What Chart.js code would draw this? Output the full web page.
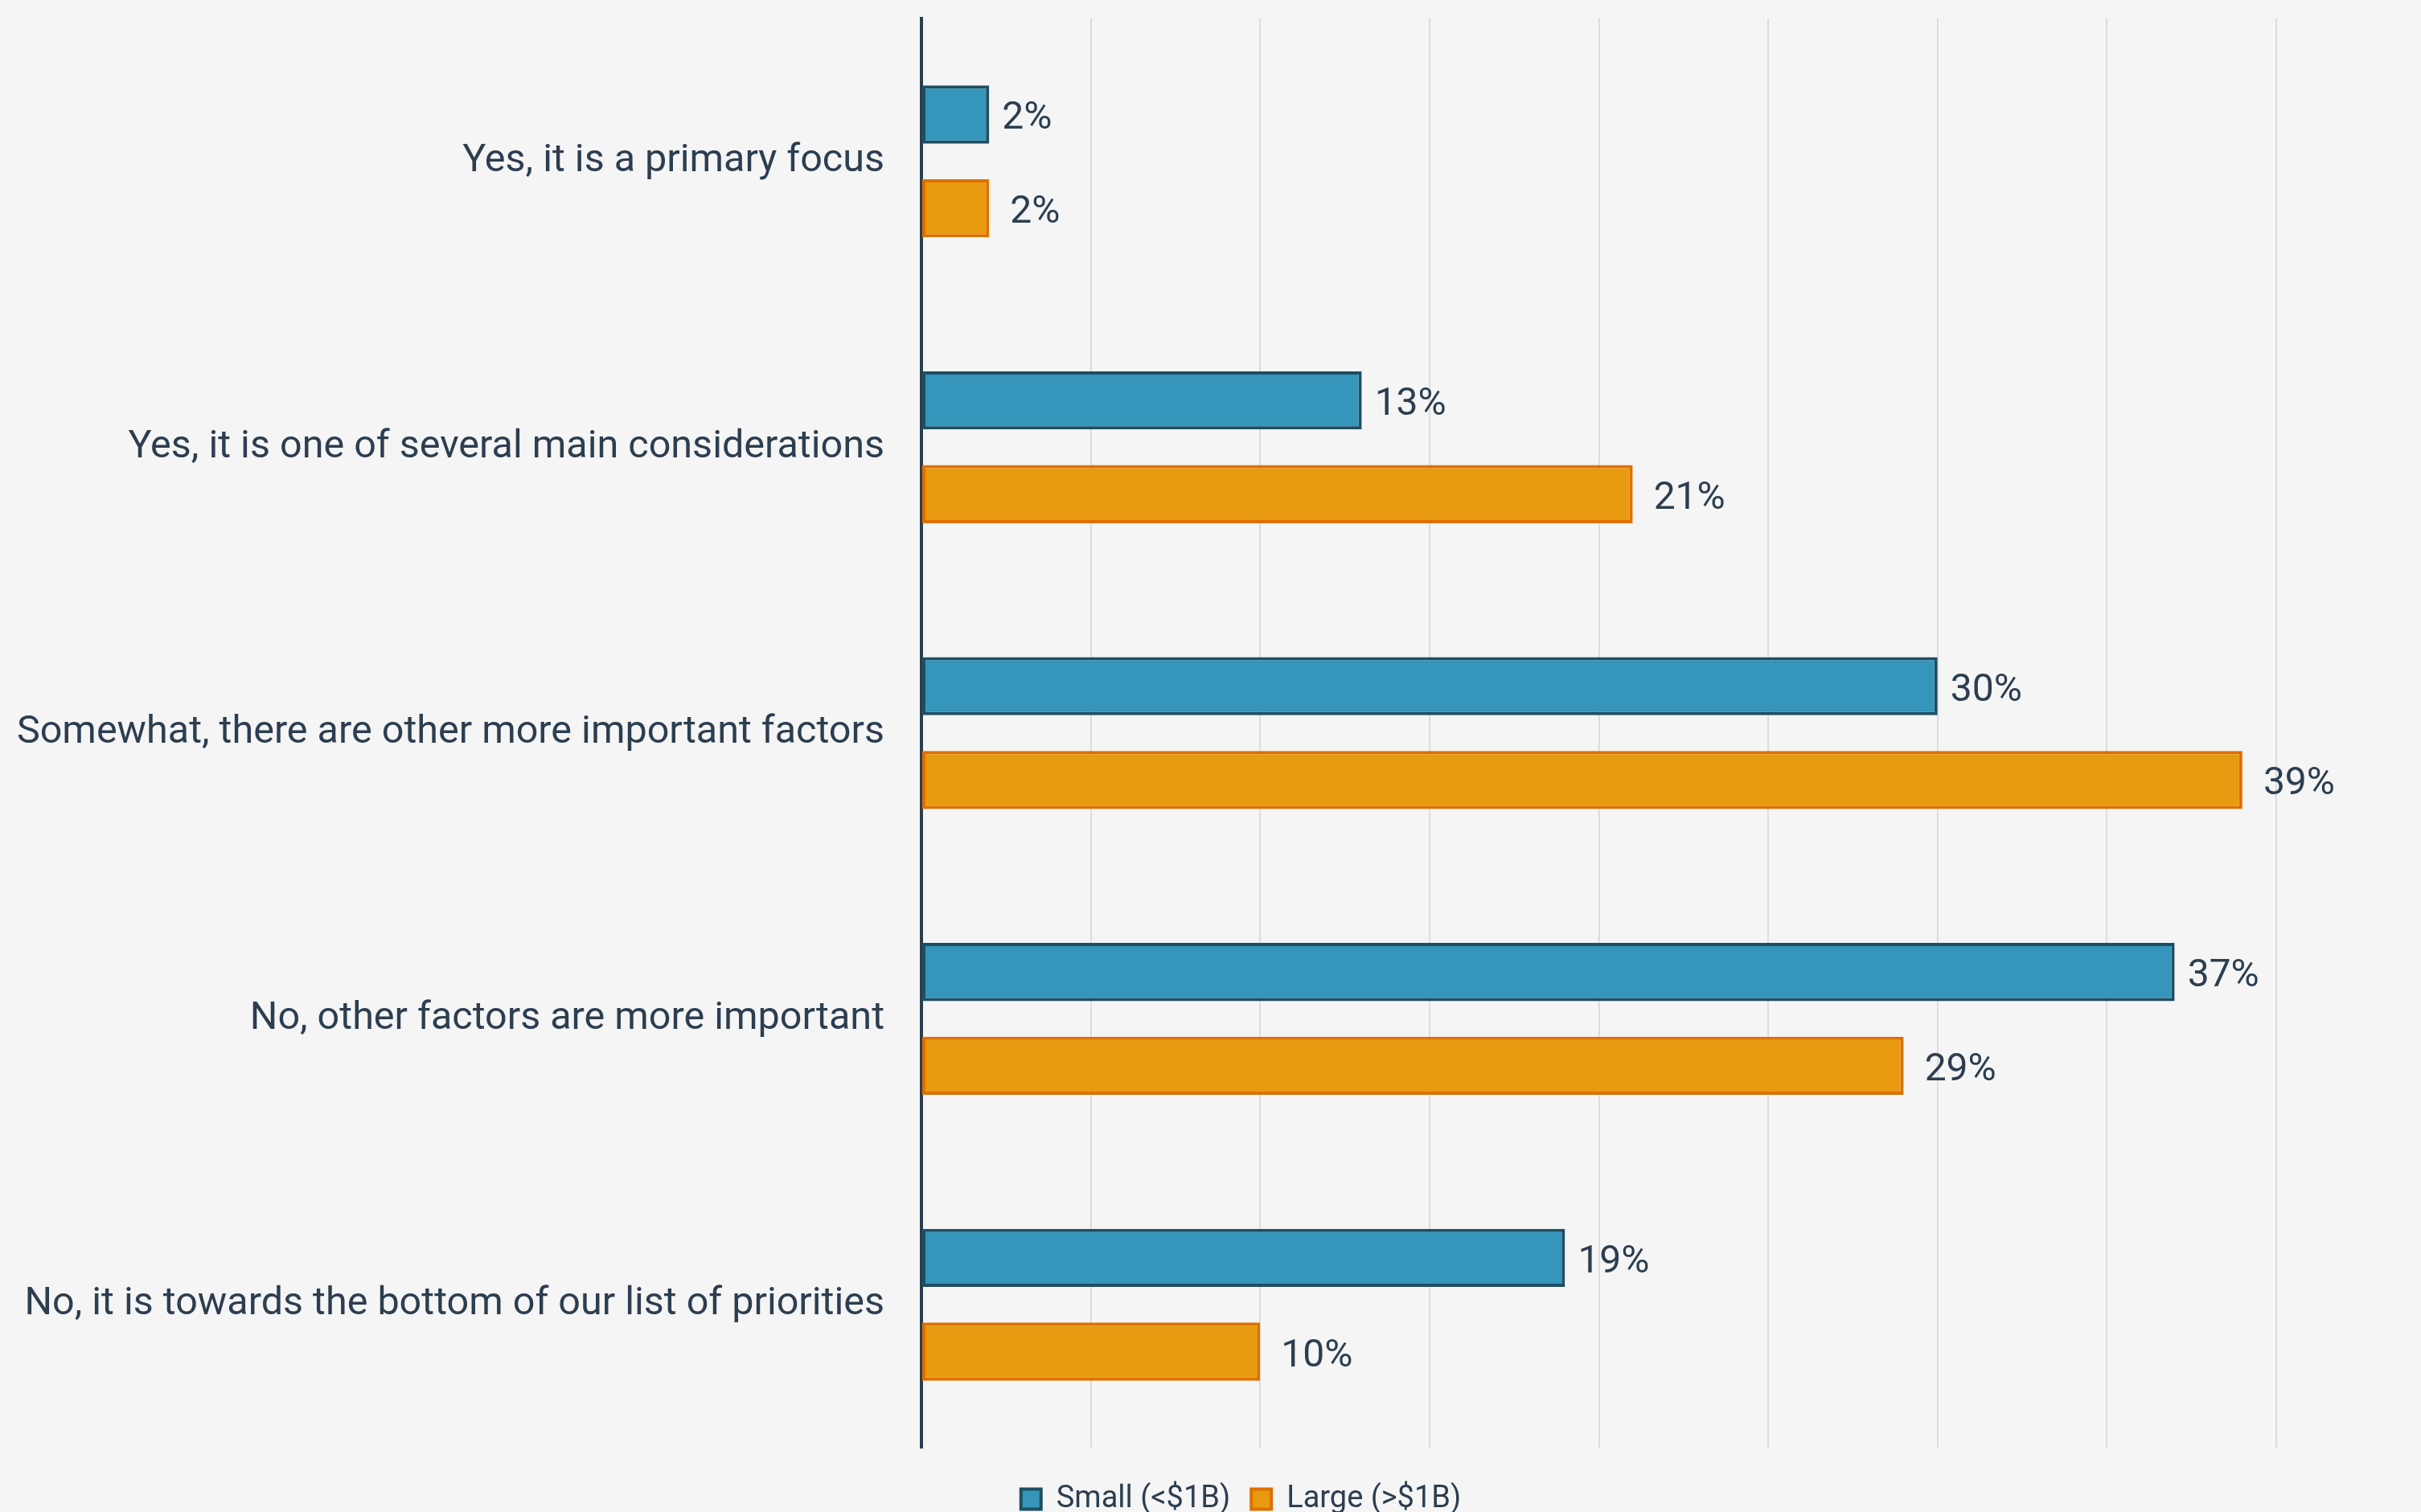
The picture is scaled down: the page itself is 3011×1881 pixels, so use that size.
<!DOCTYPE html>
<html>
<head>
<meta charset="utf-8">
<script src="https://cdn.jsdelivr.net/npm/chart.js@4/dist/chart.umd.min.js"></script>
<style>
  html, body { margin: 0; padding: 0; background: #f5f5f5; }
  #wrap { width: 3011px; height: 1881px; }
</style>
</head>
<body>
<div id="wrap"><canvas id="focusChart"></canvas></div>
<script>
// Survey answers, by company size
const categories = [
    'Yes, it is a primary focus',
    'Yes, it is one of several main considerations',
    'Somewhat, there are other more important factors',
    'No, other factors are more important',
    'No, it is towards the bottom of our list of priorities'
];
const seriesNames = ['Small (<$1B)', 'Large (>$1B)'];
const smallValues = [2, 13, 30, 37, 19];
const largeValues = [2, 21, 39, 29, 10];

const textColor = '#2c3e50';

// value labels drawn at the end of each bar
const barLabels = {
    id: 'barLabels',
    afterDatasetsDraw(chart) {
        const ctx = chart.ctx;
        ctx.save();
        ctx.font = '48px Roboto';
        ctx.fillStyle = textColor;
        ctx.textBaseline = 'middle';
        ctx.textAlign = 'left';
        chart.data.datasets.forEach((ds, i) => {
            const meta = chart.getDatasetMeta(i);
            const gap = i === 0 ? 16 : 26;
            meta.data.forEach((bar, j) => {
                ctx.fillText(ds.data[j] + '%', bar.x + gap, bar.y + 6);
            });
        });
        ctx.restore();
    }
};

// nudge the legend to the right of the canvas centre
const legendShift = {
    id: 'legendShift',
    afterLayout(chart) {
        chart.legend.left += 128;
        chart.legend.right += 128;
    }
};

document.addEventListener('DOMContentLoaded', function() {
    const ctx = document.getElementById('focusChart').getContext('2d');

    new Chart(ctx, {
        type: 'bar',
        data: {
            labels: categories,
            datasets: [
                {
                    label: seriesNames[0],
                    data: smallValues,
                    backgroundColor: '#3595ba',
                    borderColor: '#1f4e63',
                    borderWidth: 4,
                    borderSkipped: false
                },
                {
                    label: seriesNames[1],
                    data: largeValues,
                    backgroundColor: '#e89a10',
                    borderColor: '#de7000',
                    borderWidth: 4,
                    borderSkipped: false
                }
            ]
        },
        options: {
            indexAxis: 'y',
            responsive: true,
            maintainAspectRatio: false,
            animation: false,
            categoryPercentage: 0.656,
            barPercentage: 0.62,
            layout: {
                padding: { top: 23, right: 180, left: 0, bottom: -13 }
            },
            scales: {
                x: {
                    min: 0,
                    max: 40,
                    ticks: { display: false, stepSize: 5 },
                    grid: { color: '#dcdcdc', lineWidth: 2, drawTicks: false },
                    border: { display: false },
                    afterFit(scale) { scale.height = 19; }
                },
                y: {
                    ticks: {
                        color: textColor,
                        padding: 38,
                        font: { family: 'Roboto', size: 48.5 }
                    },
                    grid: { display: false },
                    border: { color: textColor, width: 4 },
                    afterFit(scale) {
                        // fixed axis width, and no extra room above/below for labels
                        scale.width = 1146;
                        scale.paddingTop = 0;
                        scale.paddingBottom = 0;
                    }
                }
            },
            plugins: {
                legend: {
                    position: 'bottom',
                    labels: {
                        color: textColor,
                        boxWidth: 25,
                        boxHeight: 25,
                        padding: 26,
                        font: { family: 'Roboto', size: 38 }
                    }
                },
                tooltip: { enabled: false }
            }
        },
        plugins: [barLabels, legendShift]
    });
});
</script>
</body>
</html>
